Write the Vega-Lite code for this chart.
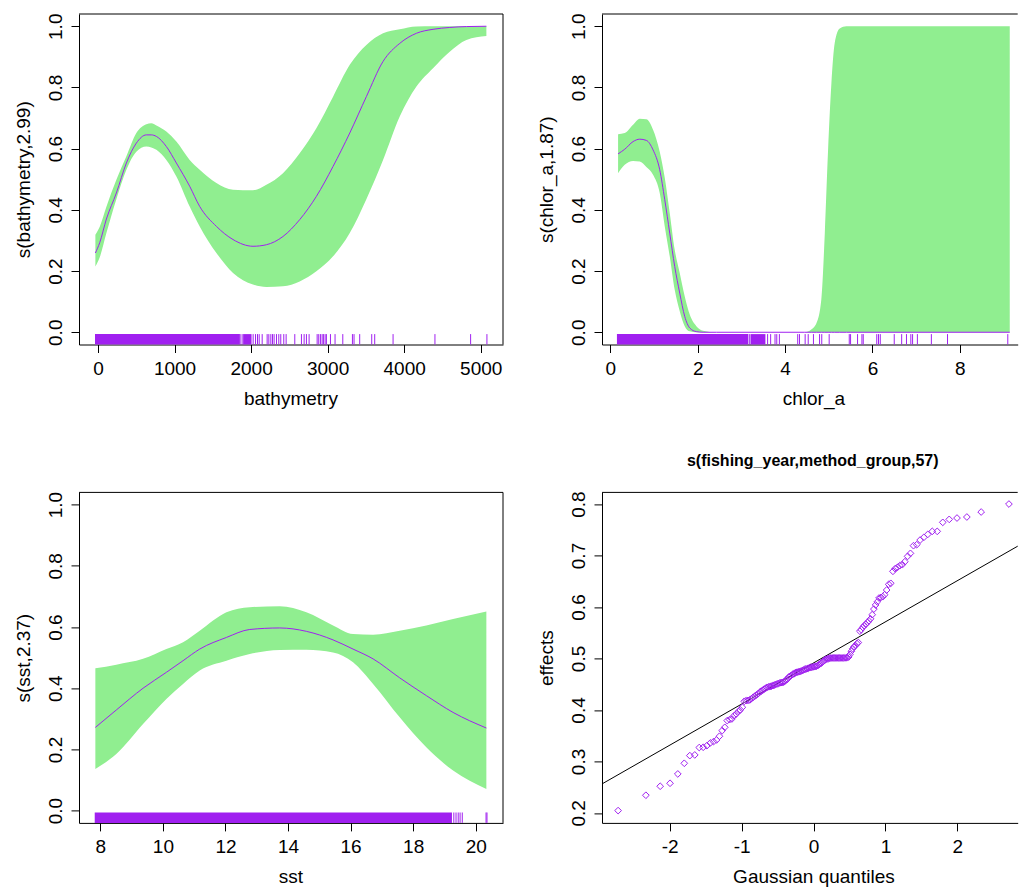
{
  "$schema": "https://vega.github.io/schema/vega-lite/v6.json",
  "padding": {"left": 14, "top": 13, "right": 0, "bottom": 0},
  "background": "white",
  "datasets": {
    "bathy": [
      {"x": -34, "fit": 0.259, "lo": 0.215, "hi": 0.319},
      {"x": 23, "fit": 0.293, "lo": 0.245, "hi": 0.345},
      {"x": 110, "fit": 0.37, "lo": 0.324, "hi": 0.41},
      {"x": 240, "fit": 0.455, "lo": 0.435, "hi": 0.498},
      {"x": 371, "fit": 0.553, "lo": 0.531, "hi": 0.575},
      {"x": 501, "fit": 0.618, "lo": 0.59, "hi": 0.651},
      {"x": 632, "fit": 0.645, "lo": 0.607, "hi": 0.68},
      {"x": 697, "fit": 0.645, "lo": 0.604, "hi": 0.683},
      {"x": 763, "fit": 0.64, "lo": 0.596, "hi": 0.676},
      {"x": 893, "fit": 0.607, "lo": 0.563, "hi": 0.656},
      {"x": 1024, "fit": 0.553, "lo": 0.509, "hi": 0.623},
      {"x": 1198, "fit": 0.477, "lo": 0.411, "hi": 0.563},
      {"x": 1329, "fit": 0.411, "lo": 0.346, "hi": 0.531},
      {"x": 1547, "fit": 0.346, "lo": 0.259, "hi": 0.488},
      {"x": 1764, "fit": 0.303, "lo": 0.194, "hi": 0.466},
      {"x": 2025, "fit": 0.281, "lo": 0.156, "hi": 0.464},
      {"x": 2200, "fit": 0.286, "lo": 0.148, "hi": 0.482},
      {"x": 2417, "fit": 0.313, "lo": 0.15, "hi": 0.52},
      {"x": 2635, "fit": 0.368, "lo": 0.166, "hi": 0.585},
      {"x": 2853, "fit": 0.444, "lo": 0.199, "hi": 0.667},
      {"x": 3071, "fit": 0.542, "lo": 0.248, "hi": 0.77},
      {"x": 3289, "fit": 0.651, "lo": 0.324, "hi": 0.874},
      {"x": 3506, "fit": 0.77, "lo": 0.435, "hi": 0.939},
      {"x": 3724, "fit": 0.885, "lo": 0.563, "hi": 0.977},
      {"x": 3942, "fit": 0.944, "lo": 0.705, "hi": 0.99},
      {"x": 4160, "fit": 0.977, "lo": 0.803, "hi": 0.999},
      {"x": 4377, "fit": 0.99, "lo": 0.863, "hi": 1.0},
      {"x": 4595, "fit": 0.996, "lo": 0.917, "hi": 1.0},
      {"x": 4813, "fit": 0.999, "lo": 0.955, "hi": 1.0},
      {"x": 5074, "fit": 1.0, "lo": 0.968, "hi": 1.0}
    ],
    "chlor": [
      {"x": 0.176, "fit": 0.583, "lo": 0.52, "hi": 0.647},
      {"x": 0.328, "fit": 0.598, "lo": 0.547, "hi": 0.651},
      {"x": 0.519, "fit": 0.623, "lo": 0.56, "hi": 0.678},
      {"x": 0.672, "fit": 0.631, "lo": 0.558, "hi": 0.698},
      {"x": 0.824, "fit": 0.627, "lo": 0.54, "hi": 0.696},
      {"x": 0.977, "fit": 0.596, "lo": 0.515, "hi": 0.662},
      {"x": 1.13, "fit": 0.531, "lo": 0.455, "hi": 0.59},
      {"x": 1.245, "fit": 0.433, "lo": 0.346, "hi": 0.505},
      {"x": 1.359, "fit": 0.324, "lo": 0.248, "hi": 0.39},
      {"x": 1.473, "fit": 0.215, "lo": 0.139, "hi": 0.27},
      {"x": 1.588, "fit": 0.128, "lo": 0.069, "hi": 0.194},
      {"x": 1.702, "fit": 0.052, "lo": 0.02, "hi": 0.118},
      {"x": 1.817, "fit": 0.014, "lo": 0.003, "hi": 0.058},
      {"x": 1.969, "fit": 0.002, "lo": 0, "hi": 0.02},
      {"x": 2.122, "fit": 0, "lo": 0, "hi": 0.005},
      {"x": 2.427, "fit": 0, "lo": 0, "hi": 0},
      {"x": 4.45, "fit": 0, "lo": 0, "hi": 0},
      {"x": 4.6, "fit": 0, "lo": 0, "hi": 0.009},
      {"x": 4.72, "fit": 0, "lo": 0, "hi": 0.03},
      {"x": 4.83, "fit": 0, "lo": 0, "hi": 0.107},
      {"x": 4.91, "fit": 0, "lo": 0, "hi": 0.324},
      {"x": 4.985, "fit": 0, "lo": 0, "hi": 0.596},
      {"x": 5.061, "fit": 0, "lo": 0, "hi": 0.814},
      {"x": 5.137, "fit": 0, "lo": 0, "hi": 0.945},
      {"x": 5.252, "fit": 0, "lo": 0, "hi": 0.993},
      {"x": 5.405, "fit": 0, "lo": 0, "hi": 1.0},
      {"x": 9.145, "fit": 0, "lo": 0, "hi": 1.0}
    ],
    "sst": [
      {"x": 7.84, "fit": 0.272, "lo": 0.136, "hi": 0.465},
      {"x": 8.51, "fit": 0.329, "lo": 0.185, "hi": 0.477},
      {"x": 9.364, "fit": 0.4, "lo": 0.283, "hi": 0.496},
      {"x": 10.11, "fit": 0.452, "lo": 0.365, "hi": 0.528},
      {"x": 10.643, "fit": 0.49, "lo": 0.414, "hi": 0.55},
      {"x": 11.176, "fit": 0.528, "lo": 0.458, "hi": 0.588},
      {"x": 12.03, "fit": 0.566, "lo": 0.49, "hi": 0.648},
      {"x": 12.775, "fit": 0.592, "lo": 0.512, "hi": 0.665},
      {"x": 13.734, "fit": 0.597, "lo": 0.525, "hi": 0.668},
      {"x": 14.586, "fit": 0.586, "lo": 0.526, "hi": 0.648},
      {"x": 15.439, "fit": 0.558, "lo": 0.517, "hi": 0.605},
      {"x": 16.078, "fit": 0.528, "lo": 0.485, "hi": 0.577},
      {"x": 16.718, "fit": 0.496, "lo": 0.414, "hi": 0.575},
      {"x": 17.57, "fit": 0.434, "lo": 0.305, "hi": 0.588},
      {"x": 18.42, "fit": 0.376, "lo": 0.207, "hi": 0.605},
      {"x": 19.276, "fit": 0.321, "lo": 0.131, "hi": 0.626},
      {"x": 20.34, "fit": 0.27, "lo": 0.071, "hi": 0.651}
    ],
    "span1": [{"a": -39, "b": 1854}, {"a": 1897, "b": 2006}],
    "rug1": [
      {"x": 1867}, {"x": 1893}, {"x": 2027}, {"x": 2058}, {"x": 2084}, {"x": 2106}, {"x": 2145}, {"x": 2210}, {"x": 2232}, {"x": 2258},
      {"x": 2280}, {"x": 2301}, {"x": 2332}, {"x": 2362}, {"x": 2388}, {"x": 2427}, {"x": 2458}, {"x": 2571}, {"x": 2658}, {"x": 2693},
      {"x": 2723}, {"x": 2758}, {"x": 2863}, {"x": 2884}, {"x": 2906}, {"x": 2928}, {"x": 2945}, {"x": 2967}, {"x": 2984}, {"x": 3037},
      {"x": 3097}, {"x": 3198}, {"x": 3324}, {"x": 3345}, {"x": 3419}, {"x": 3576}, {"x": 3615}, {"x": 3855}, {"x": 4402}, {"x": 4868}, {"x": 5081}
    ],
    "span2": [{"a": 0.15, "b": 3.16}, {"a": 3.21, "b": 3.55}],
    "rug2": [
      {"x": 3.19}, {"x": 3.6}, {"x": 3.67}, {"x": 3.77}, {"x": 3.81}, {"x": 3.87}, {"x": 4.29}, {"x": 4.33}, {"x": 4.46}, {"x": 4.53},
      {"x": 4.65}, {"x": 4.79}, {"x": 4.84}, {"x": 5.01}, {"x": 5.47}, {"x": 5.5}, {"x": 5.66}, {"x": 5.76}, {"x": 5.79}, {"x": 6.1},
      {"x": 6.14}, {"x": 6.18}, {"x": 6.5}, {"x": 6.67}, {"x": 6.78}, {"x": 6.88}, {"x": 6.92}, {"x": 7.03}, {"x": 7.35}, {"x": 7.72}, {"x": 9.1}
    ],
    "span3": [{"a": 7.82, "b": 19.24}],
    "rug3": [{"x": 19.3}, {"x": 19.37}, {"x": 19.44}, {"x": 19.5}, {"x": 19.57}, {"x": 20.33}, {"x": 20.36}],
    "qqline": [{"q": -3.2, "e": 0.2356}, {"q": 3.2, "e": 0.747}],
    "qq": [
      {"q": -2.717, "e": 0.2045}, {"q": -2.331, "e": 0.2343}, {"q": -2.132, "e": 0.2518}, {"q": -1.995, "e": 0.2576}, {"q": -1.887, "e": 0.2757},
      {"q": -1.797, "e": 0.2964}, {"q": -1.72, "e": 0.3113}, {"q": -1.651, "e": 0.3126}, {"q": -1.589, "e": 0.327}, {"q": -1.534, "e": 0.3275},
      {"q": -1.482, "e": 0.3307}, {"q": -1.435, "e": 0.3359}, {"q": -1.39, "e": 0.3385}, {"q": -1.348, "e": 0.3417}, {"q": -1.308, "e": 0.3489},
      {"q": -1.27, "e": 0.3599}, {"q": -1.234, "e": 0.3663}, {"q": -1.2, "e": 0.3793}, {"q": -1.167, "e": 0.3812}, {"q": -1.135, "e": 0.3825},
      {"q": -1.104, "e": 0.389}, {"q": -1.074, "e": 0.3922}, {"q": -1.045, "e": 0.397}, {"q": -1.017, "e": 0.4}, {"q": -0.989, "e": 0.4052},
      {"q": -0.963, "e": 0.4168}, {"q": -0.937, "e": 0.4181}, {"q": -0.911, "e": 0.4185}, {"q": -0.887, "e": 0.4194}, {"q": -0.863, "e": 0.422},
      {"q": -0.839, "e": 0.4246}, {"q": -0.816, "e": 0.427}, {"q": -0.793, "e": 0.4291}, {"q": -0.771, "e": 0.4315}, {"q": -0.749, "e": 0.4343},
      {"q": -0.727, "e": 0.4365}, {"q": -0.706, "e": 0.4385}, {"q": -0.685, "e": 0.4405}, {"q": -0.664, "e": 0.4425}, {"q": -0.644, "e": 0.444},
      {"q": -0.623, "e": 0.445}, {"q": -0.603, "e": 0.4455}, {"q": -0.584, "e": 0.4462}, {"q": -0.565, "e": 0.4472}, {"q": -0.545, "e": 0.4485},
      {"q": -0.526, "e": 0.4495}, {"q": -0.507, "e": 0.4505}, {"q": -0.489, "e": 0.4515}, {"q": -0.47, "e": 0.4524}, {"q": -0.452, "e": 0.453},
      {"q": -0.434, "e": 0.4535}, {"q": -0.416, "e": 0.454}, {"q": -0.398, "e": 0.456}, {"q": -0.38, "e": 0.4583}, {"q": -0.362, "e": 0.46},
      {"q": -0.345, "e": 0.464}, {"q": -0.327, "e": 0.4655}, {"q": -0.31, "e": 0.467}, {"q": -0.293, "e": 0.469}, {"q": -0.276, "e": 0.47},
      {"q": -0.259, "e": 0.4715}, {"q": -0.242, "e": 0.473}, {"q": -0.225, "e": 0.4735}, {"q": -0.208, "e": 0.474}, {"q": -0.191, "e": 0.4745},
      {"q": -0.174, "e": 0.4755}, {"q": -0.157, "e": 0.4765}, {"q": -0.141, "e": 0.4777}, {"q": -0.124, "e": 0.4785}, {"q": -0.108, "e": 0.4795},
      {"q": -0.091, "e": 0.48}, {"q": -0.074, "e": 0.481}, {"q": -0.058, "e": 0.482}, {"q": -0.041, "e": 0.4825}, {"q": -0.025, "e": 0.483},
      {"q": -0.008, "e": 0.4835}, {"q": 0.008, "e": 0.484}, {"q": 0.025, "e": 0.4845}, {"q": 0.041, "e": 0.485}, {"q": 0.058, "e": 0.486},
      {"q": 0.074, "e": 0.488}, {"q": 0.091, "e": 0.4895}, {"q": 0.108, "e": 0.491}, {"q": 0.124, "e": 0.493}, {"q": 0.141, "e": 0.495},
      {"q": 0.157, "e": 0.497}, {"q": 0.174, "e": 0.4985}, {"q": 0.191, "e": 0.499}, {"q": 0.208, "e": 0.5}, {"q": 0.225, "e": 0.5005},
      {"q": 0.242, "e": 0.5008}, {"q": 0.259, "e": 0.501}, {"q": 0.276, "e": 0.501}, {"q": 0.293, "e": 0.501}, {"q": 0.31, "e": 0.501},
      {"q": 0.327, "e": 0.501}, {"q": 0.345, "e": 0.501}, {"q": 0.362, "e": 0.501}, {"q": 0.38, "e": 0.501}, {"q": 0.398, "e": 0.501},
      {"q": 0.416, "e": 0.501}, {"q": 0.434, "e": 0.5012}, {"q": 0.452, "e": 0.5012}, {"q": 0.47, "e": 0.5015}, {"q": 0.489, "e": 0.503},
      {"q": 0.507, "e": 0.508}, {"q": 0.526, "e": 0.514}, {"q": 0.545, "e": 0.519}, {"q": 0.565, "e": 0.523}, {"q": 0.584, "e": 0.525},
      {"q": 0.603, "e": 0.529}, {"q": 0.623, "e": 0.531}, {"q": 0.644, "e": 0.553}, {"q": 0.664, "e": 0.556}, {"q": 0.685, "e": 0.5605},
      {"q": 0.706, "e": 0.564}, {"q": 0.727, "e": 0.5665}, {"q": 0.749, "e": 0.57}, {"q": 0.771, "e": 0.573}, {"q": 0.793, "e": 0.577},
      {"q": 0.816, "e": 0.585}, {"q": 0.839, "e": 0.596}, {"q": 0.863, "e": 0.6039}, {"q": 0.887, "e": 0.61}, {"q": 0.911, "e": 0.6175},
      {"q": 0.937, "e": 0.6185}, {"q": 0.963, "e": 0.62}, {"q": 0.989, "e": 0.6239}, {"q": 1.017, "e": 0.633}, {"q": 1.045, "e": 0.644},
      {"q": 1.074, "e": 0.646}, {"q": 1.104, "e": 0.6693}, {"q": 1.135, "e": 0.6745}, {"q": 1.167, "e": 0.677}, {"q": 1.2, "e": 0.6803},
      {"q": 1.234, "e": 0.6822}, {"q": 1.27, "e": 0.688}, {"q": 1.308, "e": 0.6984}, {"q": 1.348, "e": 0.7042}, {"q": 1.39, "e": 0.7191},
      {"q": 1.435, "e": 0.721}, {"q": 1.482, "e": 0.7301}, {"q": 1.534, "e": 0.7353}, {"q": 1.589, "e": 0.7411}, {"q": 1.651, "e": 0.7469},
      {"q": 1.72, "e": 0.7469}, {"q": 1.797, "e": 0.7644}, {"q": 1.887, "e": 0.7702}, {"q": 1.995, "e": 0.7728}, {"q": 2.132, "e": 0.7748},
      {"q": 2.331, "e": 0.7845}, {"q": 2.717, "e": 0.8}
    ]
  },
  "columns": 2,
  "spacing": {"row": 147.4, "column": 99},
  "bounds": "flush",
  "concat": [
    {
      "width": 424, "height": 330.5,
      "layer": [
        {"data": {"name": "bathy"}, "mark": {"type": "area", "color": "#90EE90", "opacity": 1, "interpolate": "monotone", "clip": true},
         "encoding": {
           "x": {"field": "x", "type": "quantitative", "scale": {"domain": [-248, 5291], "nice": false, "zero": false}, "axis": {"title": "bathymetry", "values": [0, 1000, 2000, 3000, 4000, 5000], "format": "d"}},
           "y": {"field": "hi", "type": "quantitative", "scale": {"domain": [-0.04, 1.04], "nice": false, "zero": false}, "axis": {"title": "s(bathymetry,2.99)", "values": [0, 0.2, 0.4, 0.6, 0.8, 1], "format": ".1f"}},
           "y2": {"field": "lo"}}},
        {"data": {"name": "bathy"}, "mark": {"type": "line", "color": "#A020F0", "strokeWidth": 1, "interpolate": "monotone", "clip": true},
         "encoding": {
           "x": {"field": "x", "type": "quantitative", "scale": {"domain": [-248, 5291], "nice": false, "zero": false}, "axis": {"title": "bathymetry", "values": [0, 1000, 2000, 3000, 4000, 5000], "format": "d"}},
           "y": {"field": "fit", "type": "quantitative", "scale": {"domain": [-0.04, 1.04], "nice": false, "zero": false}, "axis": {"title": "s(bathymetry,2.99)", "values": [0, 0.2, 0.4, 0.6, 0.8, 1], "format": ".1f"}}}},
        {"data": {"name": "span1"}, "mark": {"type": "rect", "color": "#A020F0"},
         "encoding": {
           "x": {"field": "a", "type": "quantitative", "scale": {"domain": [-248, 5291], "nice": false, "zero": false}, "axis": {"title": "bathymetry", "values": [0, 1000, 2000, 3000, 4000, 5000], "format": "d"}},
           "x2": {"field": "b"},
           "y": {"datum": -0.04, "type": "quantitative", "scale": {"domain": [-0.04, 1.04], "nice": false, "zero": false}, "axis": {"title": "s(bathymetry,2.99)", "values": [0, 0.2, 0.4, 0.6, 0.8, 1], "format": ".1f"}},
           "y2": {"datum": -0.006}}},
        {"data": {"name": "rug1"}, "mark": {"type": "rule", "color": "#A020F0", "strokeWidth": 1},
         "encoding": {
           "x": {"field": "x", "type": "quantitative", "scale": {"domain": [-248, 5291], "nice": false, "zero": false}, "axis": {"title": "bathymetry", "values": [0, 1000, 2000, 3000, 4000, 5000], "format": "d"}},
           "y": {"datum": -0.04, "type": "quantitative", "scale": {"domain": [-0.04, 1.04], "nice": false, "zero": false}, "axis": {"title": "s(bathymetry,2.99)", "values": [0, 0.2, 0.4, 0.6, 0.8, 1], "format": ".1f"}},
           "y2": {"datum": -0.006}}},
        {"data": {"values": [{}]}, "mark": {"type": "rule", "color": "black", "strokeWidth": 1},
         "encoding": {"y": {"datum": 1.04, "type": "quantitative", "scale": {"domain": [-0.04, 1.04], "nice": false, "zero": false}, "axis": {"title": "s(bathymetry,2.99)", "values": [0, 0.2, 0.4, 0.6, 0.8, 1], "format": ".1f"}}}},
        {"data": {"values": [{}]}, "mark": {"type": "rule", "color": "black", "strokeWidth": 1},
         "encoding": {"x": {"datum": 5291, "type": "quantitative", "scale": {"domain": [-248, 5291], "nice": false, "zero": false}, "axis": {"title": "bathymetry", "values": [0, 1000, 2000, 3000, 4000, 5000], "format": "d"}}}}
      ]
    },
    {
      "width": 415.7, "height": 330.5,
      "layer": [
        {"data": {"name": "chlor"}, "mark": {"type": "area", "color": "#90EE90", "opacity": 1, "interpolate": "monotone", "clip": true},
         "encoding": {
           "x": {"field": "x", "type": "quantitative", "scale": {"domain": [-0.192, 9.327], "nice": false, "zero": false}, "axis": {"title": "chlor_a", "values": [0, 2, 4, 6, 8], "format": "d"}},
           "y": {"field": "hi", "type": "quantitative", "scale": {"domain": [-0.04, 1.04], "nice": false, "zero": false}, "axis": {"title": "s(chlor_a,1.87)", "values": [0, 0.2, 0.4, 0.6, 0.8, 1], "format": ".1f"}},
           "y2": {"field": "lo"}}},
        {"data": {"name": "chlor"}, "mark": {"type": "line", "color": "#A020F0", "strokeWidth": 1, "interpolate": "monotone", "clip": true},
         "encoding": {
           "x": {"field": "x", "type": "quantitative", "scale": {"domain": [-0.192, 9.327], "nice": false, "zero": false}, "axis": {"title": "chlor_a", "values": [0, 2, 4, 6, 8], "format": "d"}},
           "y": {"field": "fit", "type": "quantitative", "scale": {"domain": [-0.04, 1.04], "nice": false, "zero": false}, "axis": {"title": "s(chlor_a,1.87)", "values": [0, 0.2, 0.4, 0.6, 0.8, 1], "format": ".1f"}}}},
        {"data": {"name": "span2"}, "mark": {"type": "rect", "color": "#A020F0"},
         "encoding": {
           "x": {"field": "a", "type": "quantitative", "scale": {"domain": [-0.192, 9.327], "nice": false, "zero": false}, "axis": {"title": "chlor_a", "values": [0, 2, 4, 6, 8], "format": "d"}},
           "x2": {"field": "b"},
           "y": {"datum": -0.04, "type": "quantitative", "scale": {"domain": [-0.04, 1.04], "nice": false, "zero": false}, "axis": {"title": "s(chlor_a,1.87)", "values": [0, 0.2, 0.4, 0.6, 0.8, 1], "format": ".1f"}},
           "y2": {"datum": -0.006}}},
        {"data": {"name": "rug2"}, "mark": {"type": "rule", "color": "#A020F0", "strokeWidth": 1},
         "encoding": {
           "x": {"field": "x", "type": "quantitative", "scale": {"domain": [-0.192, 9.327], "nice": false, "zero": false}, "axis": {"title": "chlor_a", "values": [0, 2, 4, 6, 8], "format": "d"}},
           "y": {"datum": -0.04, "type": "quantitative", "scale": {"domain": [-0.04, 1.04], "nice": false, "zero": false}, "axis": {"title": "s(chlor_a,1.87)", "values": [0, 0.2, 0.4, 0.6, 0.8, 1], "format": ".1f"}},
           "y2": {"datum": -0.006}}},
        {"data": {"values": [{}]}, "mark": {"type": "rule", "color": "black", "strokeWidth": 1},
         "encoding": {"y": {"datum": 1.04, "type": "quantitative", "scale": {"domain": [-0.04, 1.04], "nice": false, "zero": false}, "axis": {"title": "s(chlor_a,1.87)", "values": [0, 0.2, 0.4, 0.6, 0.8, 1], "format": ".1f"}}}}
      ]
    },
    {
      "width": 424, "height": 330.5,
      "layer": [
        {"data": {"name": "sst"}, "mark": {"type": "area", "color": "#90EE90", "opacity": 1, "interpolate": "monotone", "clip": true},
         "encoding": {
           "x": {"field": "x", "type": "quantitative", "scale": {"domain": [7.317, 20.872], "nice": false, "zero": false}, "axis": {"title": "sst", "values": [8, 10, 12, 14, 16, 18, 20], "format": "d"}},
           "y": {"field": "hi", "type": "quantitative", "scale": {"domain": [-0.04, 1.04], "nice": false, "zero": false}, "axis": {"title": "s(sst,2.37)", "values": [0, 0.2, 0.4, 0.6, 0.8, 1], "format": ".1f"}},
           "y2": {"field": "lo"}}},
        {"data": {"name": "sst"}, "mark": {"type": "line", "color": "#A020F0", "strokeWidth": 1, "interpolate": "monotone", "clip": true},
         "encoding": {
           "x": {"field": "x", "type": "quantitative", "scale": {"domain": [7.317, 20.872], "nice": false, "zero": false}, "axis": {"title": "sst", "values": [8, 10, 12, 14, 16, 18, 20], "format": "d"}},
           "y": {"field": "fit", "type": "quantitative", "scale": {"domain": [-0.04, 1.04], "nice": false, "zero": false}, "axis": {"title": "s(sst,2.37)", "values": [0, 0.2, 0.4, 0.6, 0.8, 1], "format": ".1f"}}}},
        {"data": {"name": "span3"}, "mark": {"type": "rect", "color": "#A020F0"},
         "encoding": {
           "x": {"field": "a", "type": "quantitative", "scale": {"domain": [7.317, 20.872], "nice": false, "zero": false}, "axis": {"title": "sst", "values": [8, 10, 12, 14, 16, 18, 20], "format": "d"}},
           "x2": {"field": "b"},
           "y": {"datum": -0.04, "type": "quantitative", "scale": {"domain": [-0.04, 1.04], "nice": false, "zero": false}, "axis": {"title": "s(sst,2.37)", "values": [0, 0.2, 0.4, 0.6, 0.8, 1], "format": ".1f"}},
           "y2": {"datum": -0.006}}},
        {"data": {"name": "rug3"}, "mark": {"type": "rule", "color": "#A020F0", "strokeWidth": 1},
         "encoding": {
           "x": {"field": "x", "type": "quantitative", "scale": {"domain": [7.317, 20.872], "nice": false, "zero": false}, "axis": {"title": "sst", "values": [8, 10, 12, 14, 16, 18, 20], "format": "d"}},
           "y": {"datum": -0.04, "type": "quantitative", "scale": {"domain": [-0.04, 1.04], "nice": false, "zero": false}, "axis": {"title": "s(sst,2.37)", "values": [0, 0.2, 0.4, 0.6, 0.8, 1], "format": ".1f"}},
           "y2": {"datum": -0.006}}},
        {"data": {"values": [{}]}, "mark": {"type": "rule", "color": "black", "strokeWidth": 1},
         "encoding": {"y": {"datum": 1.04, "type": "quantitative", "scale": {"domain": [-0.04, 1.04], "nice": false, "zero": false}, "axis": {"title": "s(sst,2.37)", "values": [0, 0.2, 0.4, 0.6, 0.8, 1], "format": ".1f"}}}},
        {"data": {"values": [{}]}, "mark": {"type": "rule", "color": "black", "strokeWidth": 1},
         "encoding": {"x": {"datum": 20.872, "type": "quantitative", "scale": {"domain": [7.317, 20.872], "nice": false, "zero": false}, "axis": {"title": "sst", "values": [8, 10, 12, 14, 16, 18, 20], "format": "d"}}}}
      ]
    },
    {
      "width": 415.7, "height": 330.5,
      "title": {"text": "s(fishing_year,method_group,57)", "font": "Liberation Sans", "fontSize": 16, "fontWeight": "bold", "color": "black", "frame": "group", "anchor": "middle", "baseline": "alphabetic", "offset": 8.5, "dx": 2.9},
      "layer": [
        {"data": {"name": "qqline"}, "mark": {"type": "line", "color": "black", "strokeWidth": 1, "clip": true},
         "encoding": {
           "x": {"field": "q", "type": "quantitative", "scale": {"domain": [-2.941, 2.839], "nice": false, "zero": false}, "axis": {"title": "Gaussian quantiles", "values": [-2, -1, 0, 1, 2], "labelExpr": "datum.value < 0 ? '-' + abs(datum.value) : '' + datum.value"}},
           "y": {"field": "e", "type": "quantitative", "scale": {"domain": [0.1806, 0.8226], "nice": false, "zero": false}, "axis": {"title": "effects", "values": [0.2, 0.3, 0.4, 0.5, 0.6, 0.7, 0.8], "format": ".1f"}}}},
        {"data": {"name": "qq"}, "mark": {"type": "point", "shape": "diamond", "filled": false, "color": "#A020F0", "strokeWidth": 1, "size": 45, "opacity": 1, "clip": true},
         "encoding": {
           "x": {"field": "q", "type": "quantitative", "scale": {"domain": [-2.941, 2.839], "nice": false, "zero": false}, "axis": {"title": "Gaussian quantiles", "values": [-2, -1, 0, 1, 2], "labelExpr": "datum.value < 0 ? '-' + abs(datum.value) : '' + datum.value"}},
           "y": {"field": "e", "type": "quantitative", "scale": {"domain": [0.1806, 0.8226], "nice": false, "zero": false}, "axis": {"title": "effects", "values": [0.2, 0.3, 0.4, 0.5, 0.6, 0.7, 0.8], "format": ".1f"}}}},
        {"data": {"values": [{}]}, "mark": {"type": "rule", "color": "black", "strokeWidth": 1},
         "encoding": {"y": {"datum": 0.8226, "type": "quantitative", "scale": {"domain": [0.1806, 0.8226], "nice": false, "zero": false}, "axis": {"title": "effects", "values": [0.2, 0.3, 0.4, 0.5, 0.6, 0.7, 0.8], "format": ".1f"}}}}
      ]
    }
  ],
  "config": {
    "font": "Liberation Sans",
    "view": {"stroke": null},
    "axis": {"grid": false, "domain": true, "domainColor": "black", "domainWidth": 1, "ticks": true, "tickColor": "black", "tickWidth": 1, "tickSize": 8,
             "labelFont": "Liberation Sans", "labelFontSize": 19, "labelColor": "black", "titleFont": "Liberation Sans", "titleFontSize": 19,
             "titleFontWeight": "normal", "titleColor": "black", "labelOverlap": false, "labelFlush": false, "zindex": 1},
    "axisX": {"labelAngle": 0, "labelAlign": "center", "labelBaseline": "alphabetic", "labelPadding": 21.5, "titleAlign": "center", "titleBaseline": "alphabetic", "titleX": 211.4, "titleY": 60},
    "axisY": {"labelAngle": 270, "labelAlign": "center", "labelBaseline": "alphabetic", "labelPadding": 9.6, "titleAngle": 270, "titleAlign": "center", "titleBaseline": "alphabetic", "titleX": -50, "titleY": 165.25}
  }
}
